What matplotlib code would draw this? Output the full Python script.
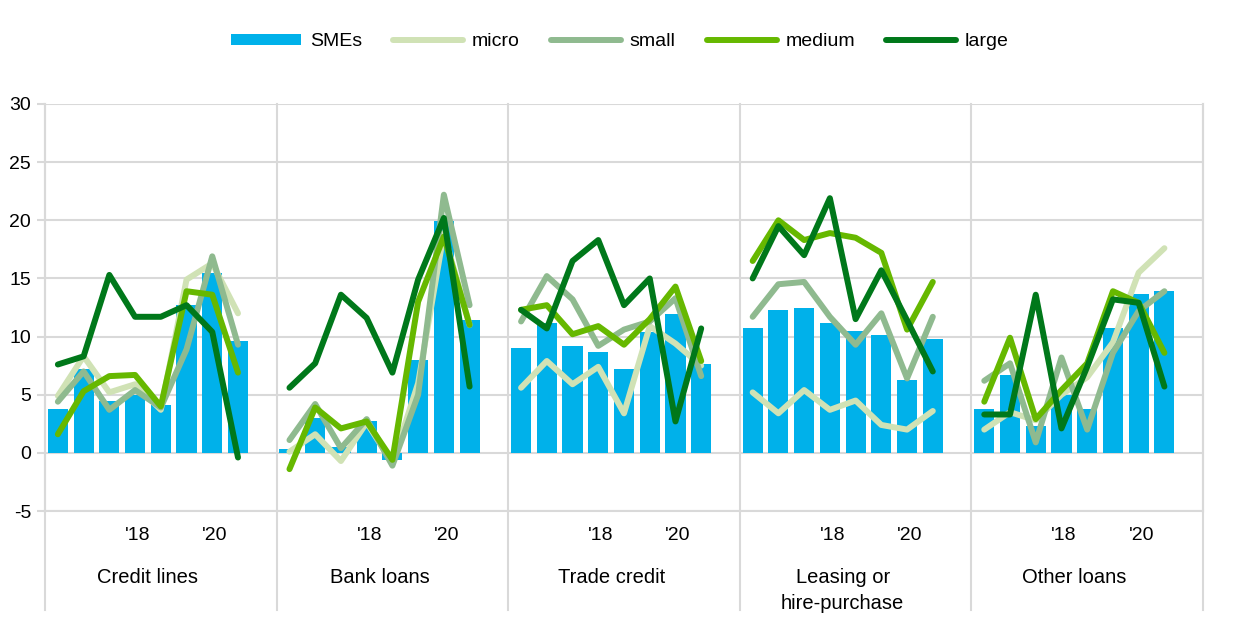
import matplotlib.pyplot as plt
import numpy as np

plt.rcParams['font.family'] = ['Liberation Sans', 'DejaVu Sans']
plt.rcParams['axes.unicode_minus'] = False

groups = ["Credit lines", "Bank loans", "Trade credit", "Leasing or\nhire-purchase", "Other loans"]
year_labels = {3: "'18", 6: "'20"}

smes = [[3.8, 7.2, 4.5, 5.0, 4.1, 12.7, 15.5, 9.6],
        [0.3, 3.0, 0.5, 2.7, -0.6, 8.0, 19.9, 11.4],
        [9.0, 11.2, 9.2, 8.7, 7.2, 10.4, 11.9, 7.6],
        [10.7, 12.3, 12.5, 11.2, 10.5, 10.1, 6.3, 9.8],
        [3.8, 6.7, 2.3, 5.0, 3.8, 10.7, 13.7, 13.9]]

micro = [[4.9, 8.3, 5.2, 5.9, 3.7, 14.9, 16.3, 12.0],
         [0.1, 1.6, -0.7, 2.6, -0.9, 6.0, 18.9, 11.0],
         [5.6, 7.9, 5.9, 7.4, 3.4, 10.9, 9.4, 7.5],
         [5.2, 3.4, 5.4, 3.7, 4.5, 2.4, 2.0, 3.6],
         [2.0, 3.5, 2.8, 5.0, 6.5, 9.5, 15.5, 17.6]]

small = [[4.4, 7.0, 3.7, 5.4, 3.9, 8.9, 16.9, 9.3],
         [1.1, 4.2, 0.4, 2.9, -1.1, 5.0, 22.2, 12.7],
         [11.3, 15.2, 13.2, 9.2, 10.6, 11.3, 13.3, 6.6],
         [11.7, 14.5, 14.7, 11.7, 9.3, 12.0, 6.4, 11.7],
         [6.2, 7.7, 0.9, 8.2, 2.0, 8.6, 12.2, 13.9]]

medium = [[1.6, 5.3, 6.6, 6.7, 4.0, 13.9, 13.6, 6.9],
          [-1.4, 3.9, 2.1, 2.7, -0.6, 13.0, 18.6, 11.0],
          [12.3, 12.7, 10.2, 10.9, 9.3, 11.5, 14.3, 7.9],
          [16.5, 20.0, 18.3, 18.9, 18.5, 17.2, 10.6, 14.7],
          [4.4, 9.9, 2.9, 5.4, 7.7, 13.9, 12.9, 8.6]]

large = [[7.6, 8.3, 15.3, 11.7, 11.7, 12.7, 10.4, -0.4],
         [5.6, 7.7, 13.6, 11.6, 6.9, 14.9, 20.2, 5.7],
         [12.3, 10.7, 16.5, 18.3, 12.7, 15.0, 2.7, 10.7],
         [15.0, 19.5, 17.0, 21.9, 11.5, 15.7, 11.4, 7.0],
         [3.3, 3.3, 13.6, 2.1, 7.4, 13.2, 12.9, 5.7]]

series = [("micro", micro, "#d0e2b5"),
          ("small", small, "#8fba8f"),
          ("medium", medium, "#66b800"),
          ("large", large, "#00781a")]

n_per = 8
slot = n_per + 1  # one empty slot after each group
grid_col = "#d9d9d9"

fig = plt.figure(figsize=(12.4, 6.34), dpi=100)
ax = fig.add_axes([45 / 1240, 123 / 634, 1158 / 1240, 407 / 634])

handles = []
# bars
for g in range(len(groups)):
    x = np.arange(n_per) + g * slot
    b = ax.bar(x, smes[g], width=0.78, color="#00b1ea", zorder=2)
    if g == 0:
        handles.append((b, "SMEs"))

# lines
for name, data, col in series:
    for g in range(len(groups)):
        x = np.arange(n_per) + g * slot
        ln, = ax.plot(x, data[g], color=col, lw=4.3, solid_capstyle="round",
                      solid_joinstyle="round", zorder=3)
        if g == 0:
            handles.append((ln, name))

ax.set_xlim(-0.5, len(groups) * slot - 0.5)
ax.set_ylim(-5, 30)
ax.set_yticks(np.arange(-5, 31, 5))
ax.yaxis.grid(True, color=grid_col, lw=1.5, zorder=0)
ax.set_axisbelow(True)
ax.set_xticks([])
ax.tick_params(axis="y", length=6, width=1.5, color=grid_col, labelsize=14, pad=4)
for s in ax.spines.values():
    s.set_color(grid_col)
    s.set_linewidth(1.5)
ax.spines["top"].set_visible(False)

# group separators, extended down through the label area
bottom_ext = -13.5
for g in range(len(groups) + 1):
    xs = g * slot - 0.5
    ax.plot([xs, xs], [bottom_ext, 30], color=grid_col, lw=1.5, clip_on=False, zorder=1)

# category labels
for g, name in enumerate(groups):
    for i, lab in year_labels.items():
        ax.text(g * slot + i + 0.1, -6.4, lab, ha="center", va="top", fontsize=14)
    ax.text(g * slot + (n_per - 1) / 2, -9.9, name, ha="center", va="top",
            fontsize=14.5, linespacing=1.45)

fig.legend([h for h, _ in handles], [n for _, n in handles],
           loc="center", bbox_to_anchor=(0.5, 1 - 42 / 634), ncol=5, frameon=False,
           fontsize=14, handlelength=3.6, handleheight=0.5, handletextpad=0.45,
           columnspacing=1.6)

fig.savefig("out.png", dpi=100)
